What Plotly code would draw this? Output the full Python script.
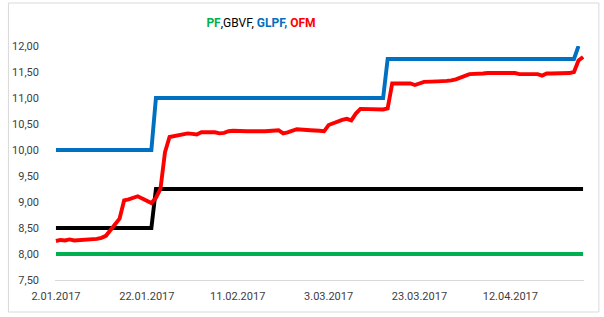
import pandas as pd
import plotly.graph_objects as go

# ---- data ----
ofm_dates = [
    "2017-01-02", "2017-01-03", "2017-01-04", "2017-01-05", "2017-01-06",
    "2017-01-09", "2017-01-10", "2017-01-11", "2017-01-12", "2017-01-13",
    "2017-01-16", "2017-01-17", "2017-01-18", "2017-01-19", "2017-01-20",
    "2017-01-23", "2017-01-24", "2017-01-25", "2017-01-26", "2017-01-27",
    "2017-01-30", "2017-01-31", "2017-02-01", "2017-02-02", "2017-02-03",
    "2017-02-06", "2017-02-07", "2017-02-08", "2017-02-09", "2017-02-10",
    "2017-02-13", "2017-02-14", "2017-02-15", "2017-02-16", "2017-02-17",
    "2017-02-20", "2017-02-21", "2017-02-22", "2017-02-23", "2017-02-24",
    "2017-02-27", "2017-02-28", "2017-03-01", "2017-03-02", "2017-03-03",
    "2017-03-06", "2017-03-07", "2017-03-08", "2017-03-09", "2017-03-10",
    "2017-03-13", "2017-03-14", "2017-03-15", "2017-03-16", "2017-03-17",
    "2017-03-20", "2017-03-21", "2017-03-22", "2017-03-23", "2017-03-24",
    "2017-03-27", "2017-03-28", "2017-03-29", "2017-03-30", "2017-03-31",
    "2017-04-03", "2017-04-04", "2017-04-05", "2017-04-06", "2017-04-07",
    "2017-04-10", "2017-04-11", "2017-04-12", "2017-04-13", "2017-04-14",
    "2017-04-17", "2017-04-18", "2017-04-19", "2017-04-20", "2017-04-21",
    "2017-04-24", "2017-04-25", "2017-04-26", "2017-04-27", "2017-04-28",
]
ofm_values = [
    8.25, 8.27, 8.26, 8.28, 8.26,
    8.27, 8.28, 8.29, 8.31, 8.35,
    8.68, 9.03, 9.05, 9.08, 9.11,
    8.98, 9.08, 9.25, 9.96, 10.25,
    10.30, 10.32, 10.31, 10.30, 10.34,
    10.34, 10.32, 10.33, 10.36, 10.37,
    10.36, 10.36, 10.36, 10.36, 10.36,
    10.38, 10.32, 10.34, 10.37, 10.40,
    10.38, 10.38, 10.37, 10.36, 10.48,
    10.58, 10.60, 10.57, 10.70, 10.79,
    10.78, 10.79, 10.78, 10.80, 11.28,
    11.28, 11.28, 11.25, 11.29, 11.31,
    11.32, 11.32, 11.33, 11.34, 11.36,
    11.46, 11.46, 11.46, 11.47, 11.48,
    11.48, 11.48, 11.48, 11.48, 11.46,
    11.47, 11.46, 11.43, 11.47, 11.47,
    11.47, 11.48, 11.50, 11.72, 11.79,
]

pf_dates = ["2017-01-02", "2017-04-28"]
pf_values = [8.00, 8.00]

gbvf_dates = ["2017-01-02", "2017-01-23", "2017-01-24", "2017-04-28"]
gbvf_values = [8.50, 8.50, 9.25, 9.25]

glpf_dates = ["2017-01-02", "2017-01-23", "2017-01-24", "2017-03-15",
              "2017-03-16", "2017-04-26", "2017-04-27"]
glpf_values = [10.00, 10.00, 11.00, 11.00, 11.75, 11.75, 12.00]

x_tick_dates = ["2017-01-02", "2017-01-22", "2017-02-11", "2017-03-03",
                "2017-03-23", "2017-04-12"]
x_tick_labels = ["2.01.2017", "22.01.2017", "11.02.2017", "3.03.2017",
                 "23.03.2017", "12.04.2017"]

y_tick_values = [7.5, 8.0, 8.5, 9.0, 9.5, 10.0, 10.5, 11.0, 11.5, 12.0]
y_tick_labels = ["7,50", "8,00", "8,50", "9,00", "9,50", "10,00",
                 "10,50", "11,00", "11,50", "12,00"]

# ---- figure ----
GREEN, BLACK, BLUE, RED = "#00B050", "#000000", "#0070C0", "#FF0000"
LW = 3.9

fig = go.Figure()
for name, xs, ys, col in [
    ("PF", pf_dates, pf_values, GREEN),
    ("GBVF", gbvf_dates, gbvf_values, BLACK),
    ("GLPF", glpf_dates, glpf_values, BLUE),
    ("OFM", ofm_dates, ofm_values, RED),
]:
    fig.add_trace(go.Scatter(
        x=pd.to_datetime(xs), y=ys, mode="lines", name=name,
        line=dict(color=col, width=LW, shape="linear"),
        hoverinfo="x+y+name",
    ))

x0 = pd.to_datetime(ofm_dates[0]) - pd.Timedelta(hours=5)
x1 = pd.to_datetime(ofm_dates[-1]) + pd.Timedelta(hours=5)

title_html = (
    "<b><span style='color:%s'>PF</span></b>"
    "<span style='color:%s'>,GBVF,</span>"
    "<b><span style='color:%s'> GLPF,</span></b>"
    "<b><span style='color:%s'> OFM</span></b>" % (GREEN, BLACK, BLUE, RED)
)

FONT = "Roboto, 'Liberation Sans', sans-serif"

fig.update_layout(
    width=604, height=317, autosize=False,
    margin=dict(l=50, r=20, t=46, b=37, pad=0),
    paper_bgcolor="white", plot_bgcolor="white",
    showlegend=False,
    font=dict(family=FONT, size=11, color="#404040"),
    title=dict(
        text=title_html, xref="container", yref="container",
        x=261 / 604, xanchor="center", y=1 - 23 / 317, yanchor="middle",
        font=dict(family=FONT, size=12),
    ),
    xaxis=dict(
        type="date", range=[x0, x1],
        tickvals=pd.to_datetime(x_tick_dates), ticktext=x_tick_labels,
        showgrid=False, zeroline=False,
        showline=True, linecolor="#D9D9D9", linewidth=1,
        ticks="", ticklabelstandoff=6,
        tickfont=dict(family=FONT, size=11, color="#404040"),
    ),
    yaxis=dict(
        range=[7.5, 12.0],
        tickvals=y_tick_values, ticktext=y_tick_labels,
        showgrid=False, zeroline=False, showline=False,
        ticks="", ticklabelstandoff=15,
        tickfont=dict(family=FONT, size=11, color="#404040"),
    ),
    shapes=[dict(
        type="rect", xref="paper", yref="paper",
        x0=(3 - 50) / 534, x1=(599 - 50) / 534,
        y0=(280 - 312) / 234, y1=(280 - 3) / 234,
        line=dict(color="#D9D9D9", width=1), fillcolor="rgba(0,0,0,0)",
        layer="below",
    )],
)

fig.write_html("out.html")
